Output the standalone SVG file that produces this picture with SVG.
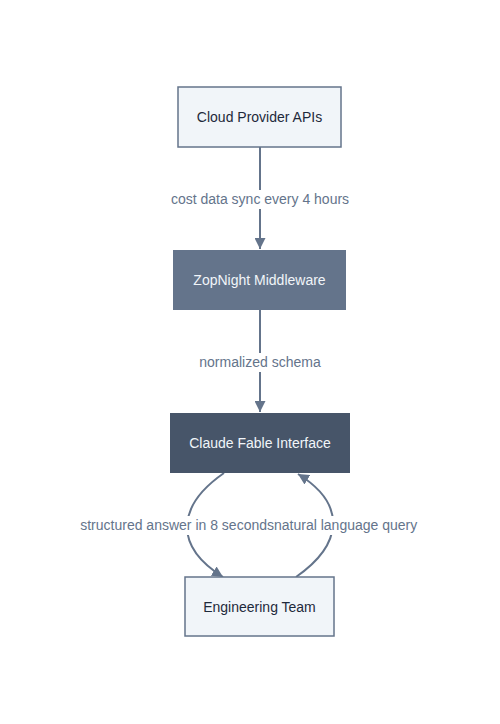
<svg xmlns="http://www.w3.org/2000/svg" width="500" height="724" viewBox="0 0 500 724">
<style>
  text { font-family: "Liberation Sans", Arial, sans-serif; font-size: 14px; }
  .light rect { fill: #f1f5f9; stroke: #64748b; stroke-width: 1.5; }
  .light text { fill: #1e293b; }
  .dark text { fill: #f1f5f9; }
  .edge { fill: none; stroke: #64748b; stroke-width: 2; }
  .lbl { fill: #64748b; }
  .lblbg { fill: #ffffff; }
</style>
<defs>
  <marker id="arrow" viewBox="0 0 10 10" refX="10" refY="5" markerWidth="11" markerHeight="11" markerUnits="userSpaceOnUse" orient="auto">
    <path d="M0,0 L10,5 L0,10 z" fill="#64748b"/>
  </marker>
</defs>
<rect width="500" height="724" fill="#ffffff"/>
<g id="connectors">
  <path class="edge" d="M260,147 L260,249" marker-end="url(#arrow)"/>
  <path class="edge" d="M260,310 L260,412" marker-end="url(#arrow)"/>
  <path class="edge" d="M224,473 C178,505 172,545 223,577" marker-end="url(#arrow)"/>
  <path class="edge" d="M296,577 C342,545 348,505 298,474" marker-end="url(#arrow)"/>
  <rect class="lblbg" x="171" y="190" width="178" height="19"/>
  <text class="lbl" x="260" y="204" text-anchor="middle">cost data sync every 4 hours</text>
  <rect class="lblbg" x="198" y="353" width="124" height="19"/>
  <text class="lbl" x="260" y="367" text-anchor="middle">normalized schema</text>
  <rect class="lblbg" x="79" y="516" width="336" height="19"/>
  <text class="lbl" x="274" y="530" text-anchor="end">structured answer in 8 seconds</text>
  <text class="lbl" x="274" y="530" text-anchor="start">natural language query</text>
</g>
<g id="node-cloud" class="light">
  <rect x="178" y="87" width="163" height="60"/>
  <text x="259.5" y="122" text-anchor="middle">Cloud Provider APIs</text>
</g>
<g id="node-middleware" class="dark">
  <rect x="173" y="250" width="173" height="60" fill="#64748b"/>
  <text x="259.5" y="285" text-anchor="middle">ZopNight Middleware</text>
</g>
<g id="node-claude" class="dark">
  <rect x="170" y="413" width="180" height="60" fill="#475569"/>
  <text x="260" y="448" text-anchor="middle">Claude Fable Interface</text>
</g>
<g id="node-team" class="light">
  <rect x="185" y="577" width="149" height="59"/>
  <text x="259.5" y="612" text-anchor="middle">Engineering Team</text>
</g>
</svg>
